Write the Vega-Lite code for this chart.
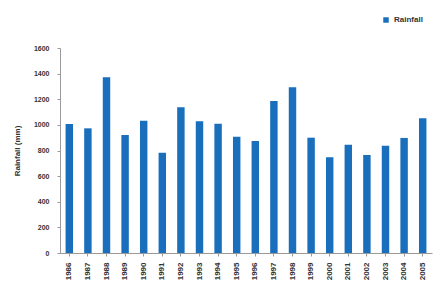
{
  "$schema": "https://vega.github.io/schema/vega-lite/v6.json",
  "autosize": "none",
  "width": 372,
  "height": 205,
  "padding": {"left": 60, "top": 48, "right": 13, "bottom": 47},
  "background": "white",
  "config": {
    "view": {"stroke": null},
    "font": "Liberation Sans"
  },
  "data": {
    "values": [
      {"year": "1986", "rainfall": 1007, "series": "Rainfall"},
      {"year": "1987", "rainfall": 973, "series": "Rainfall"},
      {"year": "1988", "rainfall": 1371, "series": "Rainfall"},
      {"year": "1989", "rainfall": 921, "series": "Rainfall"},
      {"year": "1990", "rainfall": 1033, "series": "Rainfall"},
      {"year": "1991", "rainfall": 783, "series": "Rainfall"},
      {"year": "1992", "rainfall": 1137, "series": "Rainfall"},
      {"year": "1993", "rainfall": 1028, "series": "Rainfall"},
      {"year": "1994", "rainfall": 1009, "series": "Rainfall"},
      {"year": "1995", "rainfall": 908, "series": "Rainfall"},
      {"year": "1996", "rainfall": 874, "series": "Rainfall"},
      {"year": "1997", "rainfall": 1186, "series": "Rainfall"},
      {"year": "1998", "rainfall": 1293, "series": "Rainfall"},
      {"year": "1999", "rainfall": 900, "series": "Rainfall"},
      {"year": "2000", "rainfall": 747, "series": "Rainfall"},
      {"year": "2001", "rainfall": 845, "series": "Rainfall"},
      {"year": "2002", "rainfall": 765, "series": "Rainfall"},
      {"year": "2003", "rainfall": 838, "series": "Rainfall"},
      {"year": "2004", "rainfall": 898, "series": "Rainfall"},
      {"year": "2005", "rainfall": 1051, "series": "Rainfall"}
    ]
  },
  "mark": {"type": "bar"},
  "encoding": {
    "x": {
      "field": "year",
      "type": "ordinal",
      "scale": {"paddingInner": 0.6, "paddingOuter": 0.3},
      "axis": {
        "title": null,
        "labelAngle": -90,
        "labelFontSize": 8,
        "labelFontWeight": "bold",
        "labelColor": "#333333",
        "labelPadding": 6,
        "ticks": true,
        "tickSize": 3,
        "tickColor": "#9a9a9a",
        "domainColor": "#9a9a9a"
      }
    },
    "y": {
      "field": "rainfall",
      "type": "quantitative",
      "scale": {"domain": [0, 1600]},
      "axis": {
        "title": "Rainfall (mm)",
        "titleFontSize": 8,
        "titleFontWeight": "bold",
        "titleColor": "#333333",
        "titlePadding": 12,
        "format": "d",
        "values": [0, 200, 400, 600, 800, 1000, 1200, 1400, 1600],
        "labelFontSize": 7,
        "labelFontWeight": "bold",
        "labelColor": "#333333",
        "grid": false,
        "tickSize": 3,
        "tickColor": "#9a9a9a",
        "domainColor": "#9a9a9a",
        "labelPadding": 8
      }
    },
    "color": {
      "field": "series",
      "type": "nominal",
      "scale": {"range": ["#1a6fbd"]},
      "legend": {
        "title": null,
        "orient": "none",
        "legendX": 322,
        "legendY": -32,
        "symbolType": "square",
        "symbolSize": 30,
        "labelFontSize": 8,
        "labelFontWeight": "bold",
        "labelColor": "#333333"
      }
    }
  }
}
